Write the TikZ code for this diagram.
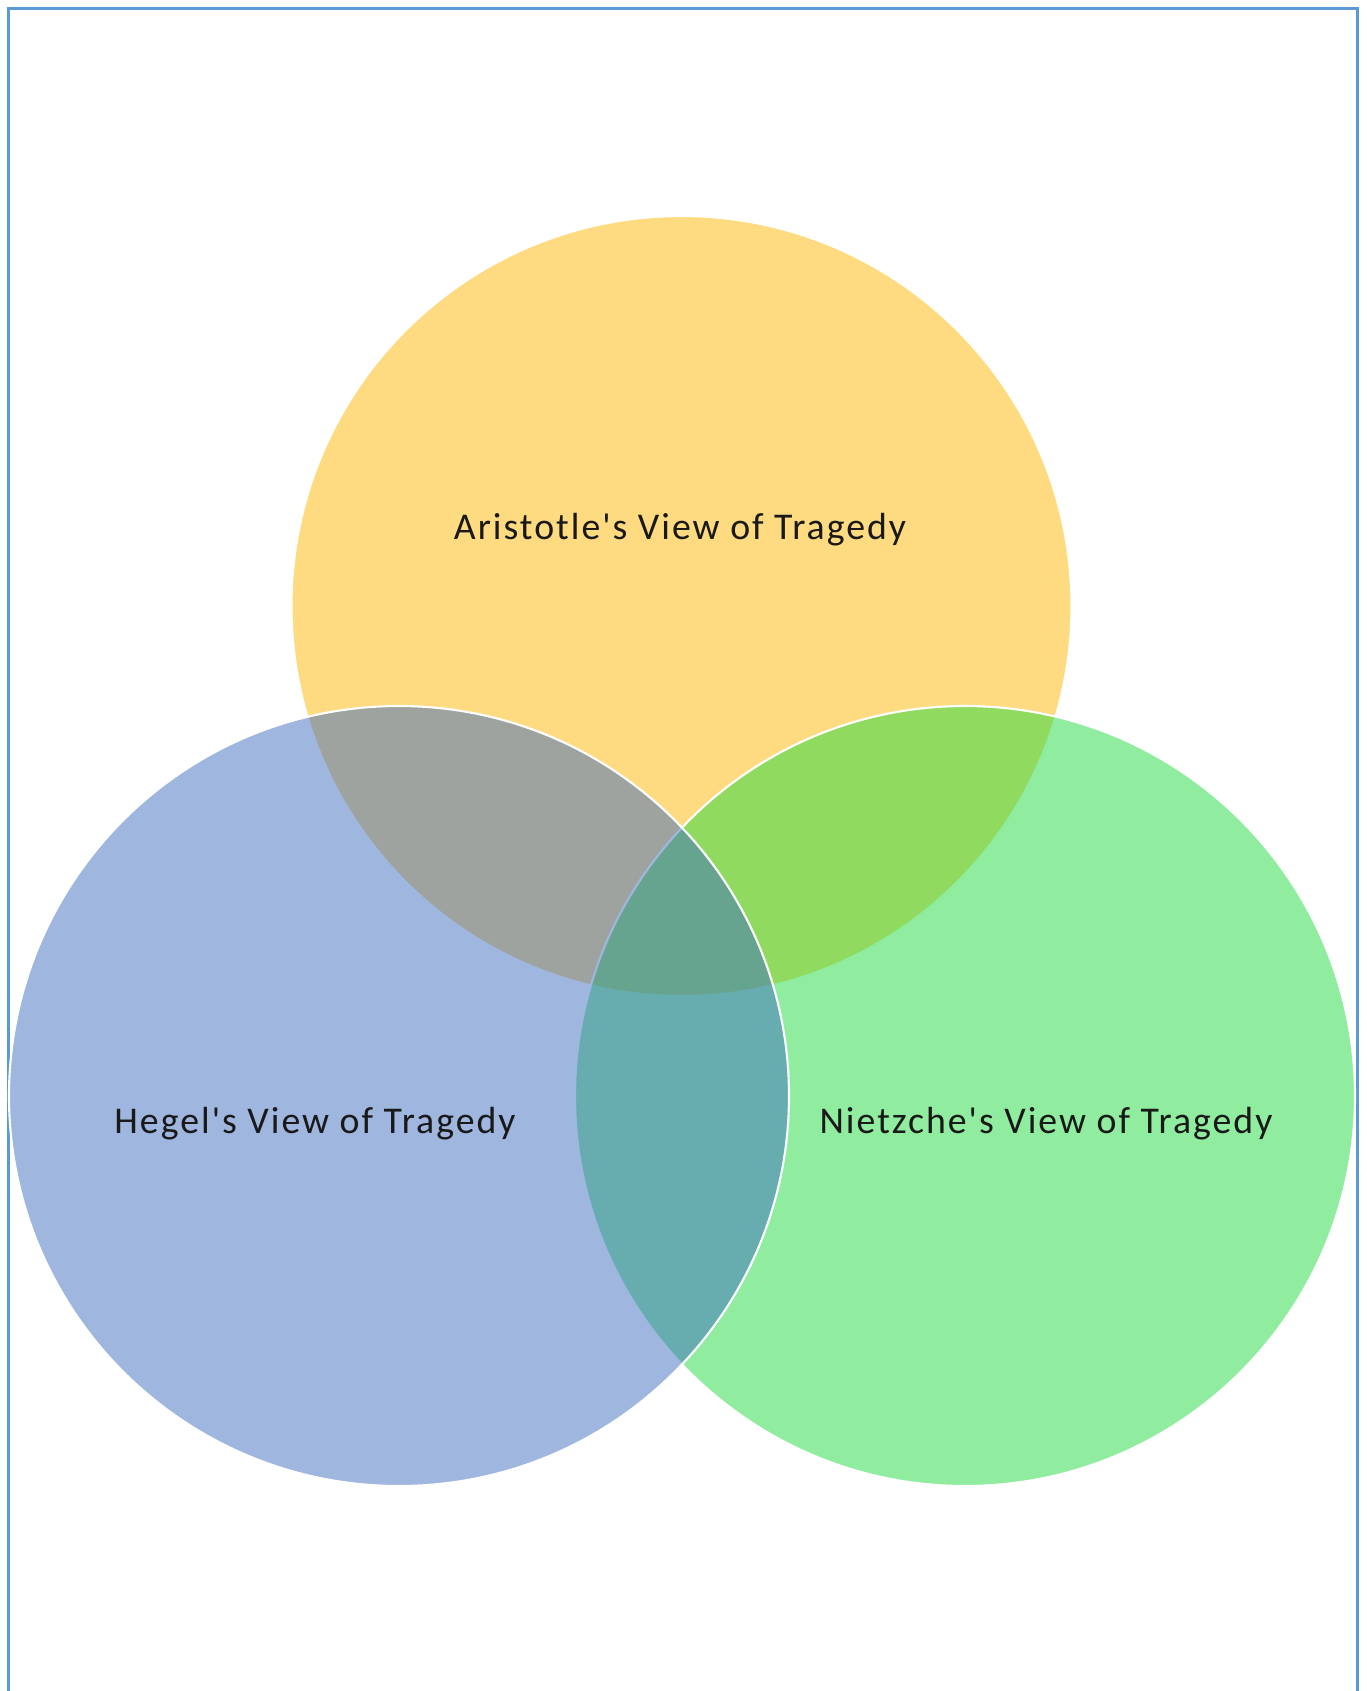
\documentclass[tikz,border=0pt]{standalone}
\usepackage{fontspec}
\setmainfont{Carlito}[Ligatures=TeXOff, LetterSpace=5.3]
\usetikzlibrary{positioning}
\definecolor{aristyellow}{RGB}{253,181,1}
\definecolor{nietzgreen}{RGB}{33,219,65}
\definecolor{hegelblue}{RGB}{64,110,192}
\definecolor{panelblue}{RGB}{91,155,213}
\definecolor{labelink}{RGB}{25,25,25}

\begin{document}
\begin{tikzpicture}[
  every node/.style={font=\fontsize{21.5}{25}\selectfont, text=labelink},
  venn/.style={circle, draw=white, line width=1.2pt, fill opacity=0.5,
               draw opacity=1, minimum size=15.6cm, inner sep=0pt},
  panel/.style={draw=panelblue, line width=1.3pt},
]
\useasboundingbox (0,0) rectangle (27.34,-33.82);
% ---- outer panel, open at the bottom ----
\draw[panel] (0.17,-34.5) -- (0.17,-0.17) -- (27.15,-0.17) -- (27.15,-34.5);
% ---- the three sets: yellow first, green, then blue on top ----
\node[venn, fill=aristyellow] at (13.63,-12.12) (aristotle) {};
\node[venn, fill=nietzgreen]  at (19.30,-21.92) (nietzsche) {};
\node[venn, fill=hegelblue]   at (7.98,-21.92)  (hegel)     {};
% ---- set labels ----
\node at (13.60,-10.60) (aristlabel) {Aristotle's View of Tragedy};
\node at (6.30,-22.48)  (hegellabel) {Hegel's View of Tragedy};
\node at (20.92,-22.48) (nietzlabel) {Nietzche's View of Tragedy};
\end{tikzpicture}
\end{document}
